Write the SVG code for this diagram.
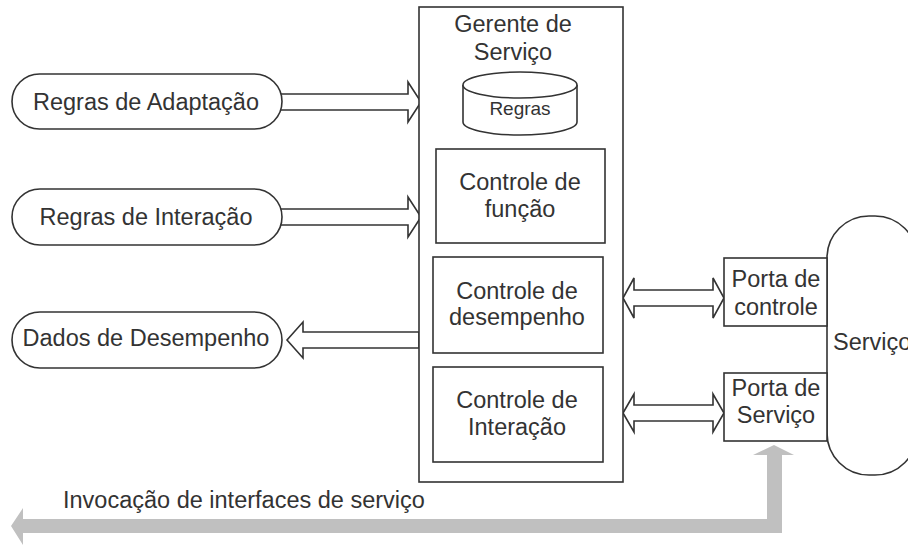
<svg xmlns="http://www.w3.org/2000/svg" width="908" height="547" viewBox="0 0 908 547">
  <style>
    .shape { fill: #ffffff; stroke: #333333; stroke-width: 1.6; }
    .arrow { fill: #ffffff; stroke: #333333; stroke-width: 1.6; stroke-linejoin: miter; }
    .flow { fill: #c0c0c0; stroke: none; }
    text { font-family: "Liberation Sans", Arial, sans-serif; font-size: 23.5px; fill: #333333; text-anchor: middle; }
    .small { font-size: 19px; }
    .left { text-anchor: start; }
  </style>
  <rect width="908" height="547" fill="#ffffff"/>

  <!-- connectors -->
  <g id="connectors">
    <!-- Regras de Adaptação -> Gerente -->
    <polygon class="arrow" points="270,94 408,94 408,82 421,102 408,122 408,110 270,110"/>
    <!-- Regras de Interação -> Gerente -->
    <polygon class="arrow" points="270,209 408,209 408,197 421,217 408,237 408,225 270,225"/>
    <!-- Gerente -> Dados de Desempenho -->
    <polygon class="arrow" points="419,332 303,332 303,322 287,340 303,358 303,348 419,348"/>
    <!-- Gerente <-> Porta de controle -->
    <polygon class="arrow" points="623,298 634,278 634,290 713,290 713,278 724,298 713,318 713,306 634,306 634,318"/>
    <!-- Gerente <-> Porta de Serviço -->
    <polygon class="arrow" points="623,413 634,394 634,405 713,405 713,394 724,413 713,432 713,421 634,421 634,432"/>
    <!-- invocation flow -->
    <polygon class="flow" points="774,445 794,455 782,455 782,533 23,533 23,545 11,526 23,508 23,519 767,519 767,455 753,455"/>
  </g>

  <!-- input / output terminals -->
  <g id="regras-adaptacao">
    <rect class="shape" x="12" y="74" width="270" height="55" rx="27.5"/>
    <text x="146" y="110">Regras de Adaptação</text>
  </g>
  <g id="regras-interacao">
    <rect class="shape" x="12" y="189" width="270" height="56" rx="28"/>
    <text x="146" y="225">Regras de Interação</text>
  </g>
  <g id="dados-desempenho">
    <rect class="shape" x="12" y="312" width="270" height="56" rx="28"/>
    <text x="146" y="346">Dados de Desempenho</text>
  </g>

  <!-- service manager -->
  <g id="gerente-servico">
    <rect class="shape" x="419" y="7" width="204" height="475"/>
    <text x="513" y="32">Gerente de</text>
    <text x="513" y="60">Serviço</text>
  </g>
  <g id="regras-db">
    <path class="shape" d="M463,85 L463,122 A57,13 0 0 0 577,122 L577,85"/>
    <ellipse class="shape" cx="520" cy="85" rx="57" ry="13"/>
    <text class="small" x="520" y="115">Regras</text>
  </g>
  <g id="controle-funcao">
    <rect class="shape" x="436" y="149" width="169" height="94"/>
    <text x="520" y="190">Controle de</text>
    <text x="520" y="217">função</text>
  </g>
  <g id="controle-desempenho">
    <rect class="shape" x="433" y="257" width="170" height="96"/>
    <text x="517" y="299">Controle de</text>
    <text x="517" y="325">desempenho</text>
  </g>
  <g id="controle-interacao">
    <rect class="shape" x="433" y="367" width="170" height="95"/>
    <text x="517" y="408">Controle de</text>
    <text x="517" y="435">Interação</text>
  </g>

  <!-- service side -->
  <g id="servico">
    <rect class="shape" x="827" y="216" width="90" height="259" rx="42"/>
    <text class="left" x="833" y="350">Serviço</text>
  </g>
  <g id="porta-controle">
    <rect class="shape" x="724" y="258" width="103" height="68"/>
    <text x="776" y="287">Porta de</text>
    <text x="776" y="315">controle</text>
  </g>
  <g id="porta-servico">
    <rect class="shape" x="724" y="373" width="103" height="68"/>
    <text x="776" y="396">Porta de</text>
    <text x="776" y="423">Serviço</text>
  </g>

  <text class="left" x="63" y="508">Invocação de interfaces de serviço</text>
</svg>
